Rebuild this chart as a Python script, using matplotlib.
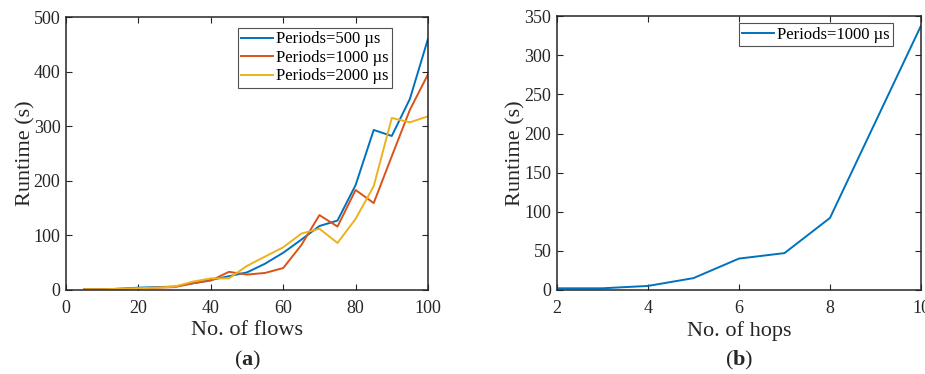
import matplotlib
matplotlib.use('Agg')
import matplotlib.pyplot as plt

plt.rcParams['font.family'] = ['Liberation Serif', 'DejaVu Serif']
plt.rcParams['mathtext.fontset'] = 'custom'
plt.rcParams['mathtext.rm'] = 'Liberation Serif'
plt.rcParams['mathtext.bf'] = 'Liberation Serif:bold'

# panel (a) data
flows = [5, 10, 15, 20, 25, 30, 35, 40, 45, 50, 55, 60, 65, 70, 75, 80, 85, 90, 95, 100]
rt_500 = [1, 1, 2, 4, 5, 6, 12, 18, 25, 32, 48, 68, 92, 117, 127, 192, 293, 282, 350, 460]
rt_1000 = [1, 1, 2, 3, 4, 5, 12, 17, 33, 28, 31, 40, 82, 137, 116, 183, 159, 245, 330, 395]
rt_2000 = [1, 1, 2, 3, 4, 6, 15, 21, 21, 44, 61, 78, 103, 112, 86, 130, 190, 315, 307, 318]

# panel (b) data
hops = [2, 3, 4, 5, 6, 7, 8, 9, 10]
rt_hops = [2, 2, 5, 15, 40, 47, 92, 215, 338]

blue = '#0072BD'
red = '#D95319'
yellow = '#EDB120'
dark = '#262626'

fig = plt.figure(figsize=(9.25, 3.74), dpi=100)
ax1 = fig.add_axes([0.0714, 0.225, 0.3913, 0.7295])
ax2 = fig.add_axes([0.602, 0.225, 0.3937, 0.7315])

lw = 1.4
ax1.plot(flows, rt_500, color=blue, lw=lw, label='Periods=500 µs')
ax1.plot(flows, rt_1000, color=red, lw=lw, label='Periods=1000 µs')
ax1.plot(flows, rt_2000, color=yellow, lw=lw, label='Periods=2000 µs')
ax1.set_xlim(0, 100)
ax1.set_ylim(0, 500)
ax1.set_xticks([0, 20, 40, 60, 80, 100])
ax1.set_yticks([0, 100, 200, 300, 400, 500])
ax1.set_xlabel('No. of flows', fontsize=16, color=dark, labelpad=3)
ax1.set_ylabel('Runtime (s)', fontsize=16, color=dark, labelpad=-1)

ax2.plot(hops, rt_hops, color=blue, lw=lw, label='Periods=1000 µs')
ax2.set_xlim(2, 10)
ax2.set_ylim(0, 350)
ax2.set_xticks([2, 4, 6, 8, 10])
ax2.set_yticks(range(0, 351, 50))
ax2.set_xlabel('No. of hops', fontsize=16, color=dark, labelpad=3)
ax2.set_ylabel('Runtime (s)', fontsize=16, color=dark, labelpad=-1)

for ax, anchor in ((ax1, (0.9006, 0.9597)), (ax2, (0.923, 0.974))):
    ax.tick_params(direction='in', top=True, right=True, labelsize=13,
                   colors=dark, length=4, width=0.8)
    ax.tick_params(axis='x', pad=7.5)
    ax.tick_params(axis='y', pad=4)
    for sp in ax.spines.values():
        sp.set_color(dark)
        sp.set_linewidth(1.1)
    leg = ax.legend(loc='upper right', bbox_to_anchor=anchor, fontsize=12,
                    frameon=True, fancybox=False, borderpad=0.2,
                    labelspacing=0.15, handlelength=1.9, handletextpad=0.2,
                    borderaxespad=0)
    leg.get_frame().set_edgecolor(dark)
    leg.get_frame().set_linewidth(0.8)

fig.text(0.2671, 0.022, r'($\mathbf{a}$)', fontsize=16, ha='center', color=dark)
fig.text(0.7988, 0.022, r'($\mathbf{b}$)', fontsize=16, ha='center', color=dark)

fig.savefig('out.png', dpi=100)
